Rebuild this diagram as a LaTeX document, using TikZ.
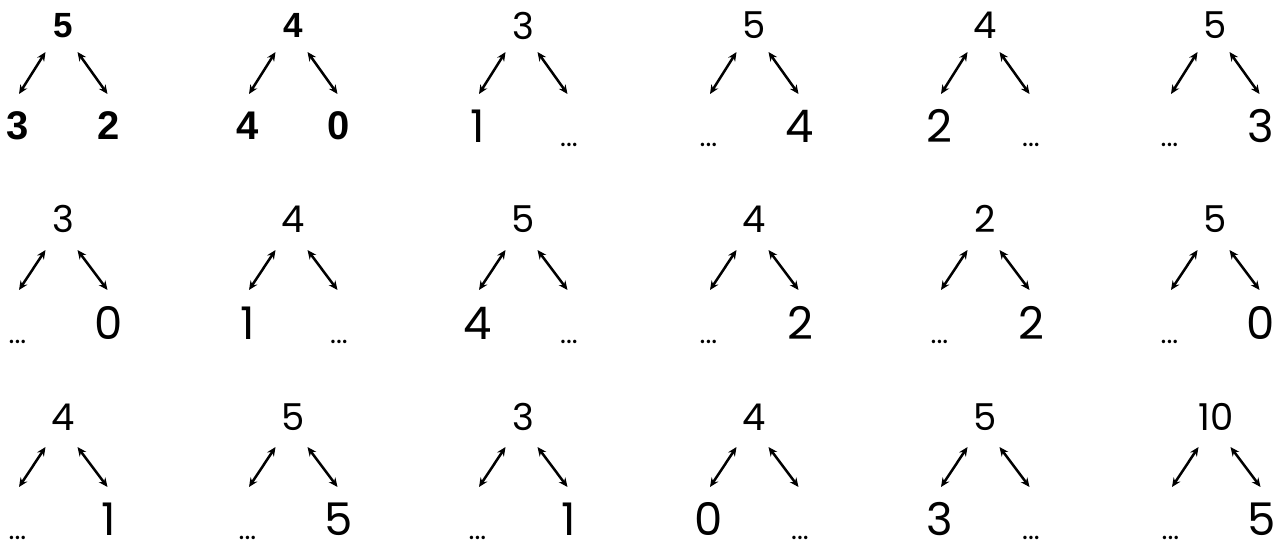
\documentclass[tikz,border=0pt]{standalone}
\usepackage{fontspec}
\setmainfont{Poppins}
\newfontfamily\arialf{Liberation Sans}
\usetikzlibrary{arrows.meta}
\newcommand\mytree[9]{%
  \pgfmathsetmacro\yt{{25.5,219,417}[#3]}%
  \pgfmathsetmacro\yb{{126,323,519}[#3]}%
  \pgfmathsetmacro\ya{{52,250,447}[#3]}%
  \pgfmathsetmacro\yz{{94,290,487}[#3]}%
  \node[#4] (#1-t) at (#2,\yt) {#5};
  \node[#6] (#1-l) at (#2-45.5,\yb) {#7};
  \node[#8] (#1-r) at (#2+46,\yb) {#9};
  \coordinate (#1-la) at (#2-17.5,\ya);
  \coordinate (#1-lb) at (#2-44,\yz);
  \coordinate (#1-ra) at (#2+14.5,\ya);
  \coordinate (#1-rb) at (#2+44.5,\yz);
  \draw[arr] (#1-la) -- (#1-lb);
  \draw[arr] (#1-ra) -- (#1-rb);
}
\begin{document}
\begin{tikzpicture}[x=1pt,y=-1pt,
  tnum/.style={font=\fontsize{37}{37}\selectfont, inner sep=0pt},
  num/.style={font=\fontsize{45}{45}\selectfont, inner sep=0pt},
  btnum/.style={font=\arialf\bfseries\fontsize{35}{35}\selectfont, inner sep=0pt},
  bnum/.style={font=\arialf\bfseries\fontsize{40}{40}\selectfont, inner sep=0pt},
  dots/.style={font=\fontsize{28}{28}\selectfont, inner sep=0pt, yshift=-19pt},
  tip/.tip={Stealth[length=9pt,width=8pt]},
  arr/.style={tip-tip, line width=2.5pt}]
\useasboundingbox (0,0) rectangle (1285,550);
% row 1
\mytree{a1}{63}{0}{btnum}{5}{bnum}{3}{bnum}{2}
\mytree{a2}{293}{0}{btnum}{4}{bnum}{4}{bnum}{0}
\mytree{a3}{523}{0}{tnum}{3}{num}{1}{dots}{...}
\mytree{a4}{754}{0}{tnum}{5}{dots}{...}{num}{4}
\mytree{a5}{985}{0}{tnum}{4}{num}{2}{dots}{...}
\mytree{a6}{1215}{0}{tnum}{5}{dots}{...}{num}{3}
% row 2
\mytree{b1}{63}{1}{tnum}{3}{dots}{...}{num}{0}
\mytree{b2}{293}{1}{tnum}{4}{num}{1}{dots}{...}
\mytree{b3}{523}{1}{tnum}{5}{num}{4}{dots}{...}
\mytree{b4}{754}{1}{tnum}{4}{dots}{...}{num}{2}
\mytree{b5}{985}{1}{tnum}{2}{dots}{...}{num}{2}
\mytree{b6}{1215}{1}{tnum}{5}{dots}{...}{num}{0}
% row 3
\mytree{c1}{63}{2}{tnum}{4}{dots}{...}{num}{1}
\mytree{c2}{293}{2}{tnum}{5}{dots}{...}{num}{5}
\mytree{c3}{523}{2}{tnum}{3}{dots}{...}{num}{1}
\mytree{c4}{754}{2}{tnum}{4}{num}{0}{dots}{...}
\mytree{c5}{985}{2}{tnum}{5}{num}{3}{dots}{...}
\mytree{c6}{1216}{2}{tnum}{10}{dots}{...}{num}{5}
\end{tikzpicture}
\end{document}
